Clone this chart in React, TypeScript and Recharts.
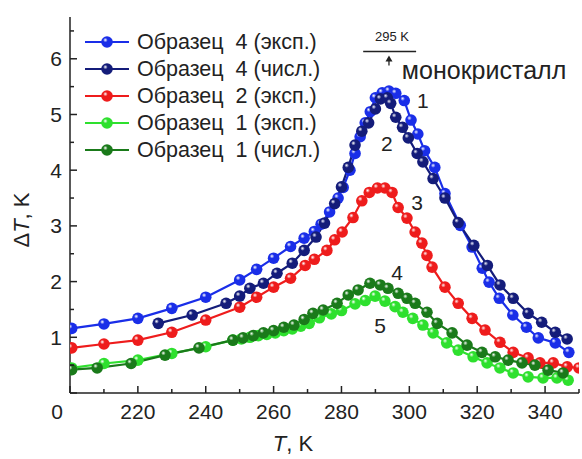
import React from 'react';
import { LineChart, Line, XAxis, YAxis, ReferenceDot, ReferenceLine, Legend } from 'recharts';

// ---- data (T in K, ΔT in K) ----
const s4ExpT = [200.5, 210, 220, 230, 240, 250, 255, 260, 265, 269, 272, 274, 276.5, 279, 280.5, 282.5, 284, 285.5, 287, 288.5, 290, 292, 294, 296, 298.5, 300.5, 302.5, 304.5, 307.5, 310.5, 315, 318.5, 321.5, 323.5, 326.5, 330.5, 334.5, 338, 343, 347];
const s4ExpV = [1.16, 1.24, 1.34, 1.52, 1.72, 2.03, 2.22, 2.42, 2.63, 2.78, 2.9, 3.03, 3.25, 3.5, 3.69, 4.0, 4.3, 4.6, 4.85, 5.05, 5.3, 5.39, 5.42, 5.38, 5.25, 4.9, 4.65, 4.35, 4.05, 3.58, 3.01, 2.62, 2.24, 1.99, 1.7, 1.4, 1.18, 0.99, 0.9, 0.73];

const s4NumT = [226, 236, 246, 250, 253, 257, 261, 265.5, 269, 272.5, 275, 278, 280, 282, 284, 286, 288, 290, 291.5, 293.5, 294.5, 296, 298, 299.7, 302.3, 304, 307, 310.5, 314.4, 319, 323, 326.7, 330.6, 335, 339, 343, 346.5];
const s4NumV = [1.25, 1.4, 1.61, 1.74, 1.88, 1.97, 2.15, 2.33, 2.56, 2.8, 3.05, 3.4, 3.7, 4.05, 4.45, 4.7, 4.85, 5.1, 5.28, 5.3, 5.2, 4.95, 4.77, 4.58, 4.3, 4.15, 3.85, 3.5, 3.06, 2.65, 2.29, 1.94, 1.7, 1.43, 1.27, 1.09, 0.97];

const s2ExpT = [200.5, 210, 220, 230, 240, 250, 255, 260, 265, 269.3, 272, 275.7, 278, 280.2, 283.4, 286, 288.2, 290.6, 292.8, 294.9, 296.7, 299.3, 301.7, 303.7, 305.2, 306.7, 310.5, 314.4, 318.5, 322.3, 326.7, 330.6, 335, 338.5, 342.4, 346.5, 350];
const s2ExpV = [0.81, 0.88, 0.95, 1.09, 1.31, 1.54, 1.72, 1.9, 2.06, 2.29, 2.4, 2.56, 2.75, 2.89, 3.15, 3.45, 3.6, 3.68, 3.68, 3.6, 3.33, 3.14, 2.89, 2.69, 2.47, 2.26, 1.9, 1.61, 1.34, 1.13, 0.91, 0.73, 0.63, 0.54, 0.54, 0.47, 0.45];

const s1ExpT = [200.5, 210, 220, 230, 240, 248, 250.5, 253, 255.5, 258, 260.5, 263, 265.5, 268, 270.5, 273.5, 277, 280, 284, 287, 289.9, 292.8, 295.8, 298.1, 301, 304, 307, 311, 314.4, 318.8, 322.9, 326.7, 330.6, 335, 339.4, 343.5, 346.8];
const s1ExpV = [0.45, 0.53, 0.59, 0.71, 0.83, 0.95, 0.97, 1.0, 1.03, 1.05, 1.08, 1.12, 1.15, 1.2, 1.25, 1.35, 1.42, 1.48, 1.6, 1.66, 1.74, 1.65, 1.55, 1.45, 1.34, 1.22, 1.08, 0.9, 0.77, 0.65, 0.54, 0.45, 0.36, 0.29, 0.27, 0.27, 0.23];

const s1NumT = [200.5, 208, 218, 228, 238, 248, 251, 254, 257, 260, 263, 266, 269, 271.6, 274.6, 278.7, 282, 284.9, 288.4, 291.4, 293.7, 296.7, 299.3, 301.7, 305.2, 308.2, 312.6, 317, 321.4, 325.3, 329.1, 333.2, 337, 340.9, 345.3];
const s1NumV = [0.42, 0.45, 0.53, 0.68, 0.81, 0.95, 0.99, 1.03, 1.08, 1.12, 1.18, 1.22, 1.32, 1.43, 1.49, 1.61, 1.76, 1.85, 1.97, 1.94, 1.88, 1.79, 1.7, 1.61, 1.45, 1.25, 1.08, 0.86, 0.73, 0.65, 0.59, 0.54, 0.5, 0.41, 0.36];

const seriesNames = ['Образец  4 (эксп.)', 'Образец  4 (числ.)', 'Образец  2 (эксп.)', 'Образец  1 (эксп.)', 'Образец  1 (числ.)'];
const seriesColors = ['#1a2ee8', '#141c7a', '#ee1c1c', '#2ee02e', '#1a7a1a'];
const seriesIds = ['s4e', 's4n', 's2e', 's1e', 's1n'];

const xTicks = [200, 210, 220, 230, 240, 250, 260, 270, 280, 290, 300, 310, 320, 330, 340, 350];
const yTicks = [0, 0.5, 1, 1.5, 2, 2.5, 3, 3.5, 4, 4.5, 5, 5.5, 6, 6.5];

const curveLabels = [
  { t: 304.0, v: 5.25, text: '1' },
  { t: 293.4, v: 4.48, text: '2' },
  { t: 302.3, v: 3.42, text: '3' },
  { t: 296.4, v: 2.17, text: '4' },
  { t: 291.4, v: 1.22, text: '5' },
];

const toData = (t: number[], v: number[]) => t.map((x, i) => ({ T: x, dT: v[i] }));
const seriesData = [
  toData(s4ExpT, s4ExpV),
  toData(s4NumT, s4NumV),
  toData(s2ExpT, s2ExpV),
  toData(s1ExpT, s1ExpV),
  toData(s1NumT, s1NumV),
];

const FONT = '"Liberation Sans", Arial, sans-serif';
const AX = '#222';

const XTickBottom = (p: any) => {
  const v = p.payload.value;
  const major = v % 20 === 0;
  const len = major ? 7 : 4;
  let label = major ? String(v) : '';
  let lx = p.x;
  if (v === 200) { label = '0'; lx = p.x - 13; }
  return (
    <g>
      <line x1={p.x} y1={p.y} x2={p.x} y2={p.y - len} stroke={AX} strokeWidth={1.5} />
      {label && (
        <text x={lx} y={p.y + 26} textAnchor="middle" fontSize={21} fontFamily={FONT} fill={AX}>{label}</text>
      )}
    </g>
  );
};
const XTickTop = (p: any) => {
  const v = p.payload.value;
  const len = v % 20 === 0 ? 7 : 4;
  return <line x1={p.x} y1={p.y} x2={p.x} y2={p.y + len} stroke={AX} strokeWidth={1.5} />;
};
const YTickLeft = (p: any) => {
  const v = p.payload.value;
  const major = Number.isInteger(v);
  const len = major ? 7 : 4;
  return (
    <g>
      <line x1={p.x} y1={p.y} x2={p.x + len} y2={p.y} stroke={AX} strokeWidth={1.5} />
      {major && v > 0 && (
        <text x={p.x - 8} y={p.y + 7.5} textAnchor="end" fontSize={21} fontFamily={FONT} fill={AX}>{v}</text>
      )}
    </g>
  );
};
const YTickRight = (p: any) => {
  const v = p.payload.value;
  const len = Number.isInteger(v) ? 7 : 4;
  return <line x1={p.x} y1={p.y} x2={p.x - len} y2={p.y} stroke={AX} strokeWidth={1.5} />;
};

const makeDot = (id: string) => (p: any) => (
  <circle key={`${id}-${p.index}`} cx={p.cx} cy={p.cy} r={5.8} fill={`url(#grad-${id})`} />
);

const LegendContent = () => (
  <div style={{ position: 'relative', width: 582, height: 459, pointerEvents: 'none' }}>
    {seriesNames.map((n, i) => (
      <div key={n} style={{ position: 'absolute', left: 82, top: 42 + i * 26.9 - 12, height: 24, display: 'flex', alignItems: 'center' }}>
        <svg width={50} height={24} style={{ display: 'block' }}>
          <line x1={3} y1={12} x2={47} y2={12} stroke={seriesColors[i]} strokeWidth={2.2} />
          <circle cx={25} cy={12} r={5.8} fill={`url(#grad-${seriesIds[i]})`} />
        </svg>
        <span style={{ marginLeft: 5, fontFamily: FONT, fontSize: 21.5, color: AX, whiteSpace: 'pre', lineHeight: '24px' }}>{n}</span>
      </div>
    ))}
  </div>
);

const TextShape = (text: string, size: number, anchor: string = 'middle') => (p: any) => (
  <text x={p.cx} y={p.cy} textAnchor={anchor} dominantBaseline="central" fontSize={size} fontFamily={FONT} fill={AX}>{text}</text>
);

const ArrowShape = (p: any) => (
  <g>
    <line x1={p.cx} y1={p.cy} x2={p.cx} y2={p.cy - 8} stroke={AX} strokeWidth={1.3} />
    <polygon points={`${p.cx - 3.5},${p.cy - 4} ${p.cx + 3.5},${p.cy - 4} ${p.cx},${p.cy - 10}`} fill={AX} />
  </g>
);

export default function App() {
  return (
    <div style={{ position: 'absolute', left: 0, top: 0, width: 582, height: 459, background: '#fff' }}>
      <LineChart width={582} height={459} margin={{ top: 17, right: 3, bottom: 0, left: 0 }}>
        <defs>
          {seriesIds.map((id, i) => (
            <radialGradient key={id} id={`grad-${id}`} cx="40%" cy="38%" r="65%" fx="35%" fy="32%">
              <stop offset="0%" stopColor="#ffffff" stopOpacity={0.9} />
              <stop offset="30%" stopColor={seriesColors[i]} />
              <stop offset="100%" stopColor={seriesColors[i]} />
            </radialGradient>
          ))}
        </defs>
        <XAxis
          xAxisId="b" type="number" dataKey="T" domain={[200, 350]} allowDataOverflow ticks={xTicks} interval={0}
          orientation="bottom" height={66} tickSize={0} tickMargin={0} tickLine={false}
          axisLine={{ stroke: AX, strokeWidth: 1.5 }} tick={<XTickBottom />}
          label={{
            content: () => (
              <text x={293} y={451} textAnchor="middle" fontSize={22} fontFamily={FONT} fill={AX}>
                <tspan fontStyle="italic">T</tspan>, K
              </text>
            ),
          }}
        />
        <XAxis
          xAxisId="t" type="number" dataKey="T" domain={[200, 350]} allowDataOverflow ticks={xTicks} interval={0}
          orientation="top" height={0} tickSize={0} tickMargin={0} tickLine={false}
          axisLine={{ stroke: AX, strokeWidth: 1.5 }} tick={<XTickTop />}
        />
        <YAxis
          yAxisId="l" type="number" domain={[0, 6.75]} allowDataOverflow ticks={yTicks} interval={0}
          orientation="left" width={70} tickSize={0} tickMargin={0} tickLine={false}
          axisLine={{ stroke: AX, strokeWidth: 1.5 }} tick={<YTickLeft />}
          label={{
            content: () => (
              <text x={21} y={220} transform="rotate(-90 21 220)" textAnchor="middle" dominantBaseline="central" fontSize={22} fontFamily={FONT} fill={AX}>
                Δ<tspan fontStyle="italic">T</tspan>, K
              </text>
            ),
          }}
        />
        <YAxis
          yAxisId="r" type="number" domain={[0, 6.75]} allowDataOverflow ticks={yTicks} interval={0}
          orientation="right" width={0} tickSize={0} tickMargin={0} tickLine={false}
          axisLine={{ stroke: AX, strokeWidth: 1.5 }} tick={<YTickRight />}
        />
        <Legend layout="horizontal" verticalAlign="middle" align="center" content={<LegendContent />}
          wrapperStyle={{ position: 'absolute', left: 0, top: 0, width: 582, height: 459 }} />
        {seriesIds.map((id, i) => (
          <Line
            key={id} xAxisId="b" yAxisId="l" data={seriesData[i]} dataKey="dT" name={seriesNames[i]}
            type="linear" stroke={seriesColors[i]} strokeWidth={2.2} dot={makeDot(id)} activeDot={false}
            isAnimationActive={false}
          />
        ))}
        {curveLabels.map((c) => (
          <ReferenceDot key={c.text} xAxisId="b" yAxisId="l" x={c.t} y={c.v} r={0} shape={TextShape(c.text, 21)} />
        ))}
        <ReferenceDot xAxisId="b" yAxisId="l" x={294.9} y={6.4} r={0} shape={TextShape('295 K', 13)} />
        <ReferenceLine xAxisId="b" yAxisId="l" segment={[{ x: 286.4, y: 6.13 }, { x: 302, y: 6.13 }]} stroke={AX} strokeWidth={1.5} />
        <ReferenceDot xAxisId="b" yAxisId="l" x={294} y={5.88} r={0} shape={ArrowShape} />
        <ReferenceDot xAxisId="b" yAxisId="l" x={297.8} y={5.79} r={0} shape={TextShape('монокристалл', 25, 'start')} />
      </LineChart>
    </div>
  );
}
